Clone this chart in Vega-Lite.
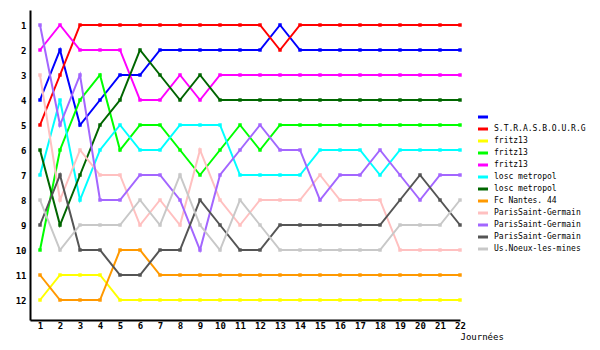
{
  "$schema": "https://vega.github.io/schema/vega-lite/v6.json",
  "autosize": "none",
  "width": 430,
  "height": 310,
  "padding": {"left": 30, "top": 10, "right": 140, "bottom": 30},
  "background": "white",
  "config": {
    "view": {"stroke": null},
    "font": "DejaVu Sans Mono",
    "axis": {"grid": false, "ticks": false, "domainColor": "black", "domainWidth": 2, "labelFont": "DejaVu Sans Mono", "labelFontSize": 9, "labelColor": "black", "labelFontWeight": "bold"}
  },
  "data": {"values": [
    {"s":"s01","d":1,"r":4},{"s":"s01","d":2,"r":2},{"s":"s01","d":3,"r":5},{"s":"s01","d":4,"r":4},{"s":"s01","d":5,"r":3},{"s":"s01","d":6,"r":3},{"s":"s01","d":7,"r":2},{"s":"s01","d":8,"r":2},{"s":"s01","d":9,"r":2},{"s":"s01","d":10,"r":2},{"s":"s01","d":11,"r":2},{"s":"s01","d":12,"r":2},{"s":"s01","d":13,"r":1},{"s":"s01","d":14,"r":2},{"s":"s01","d":15,"r":2},{"s":"s01","d":16,"r":2},{"s":"s01","d":17,"r":2},{"s":"s01","d":18,"r":2},{"s":"s01","d":19,"r":2},{"s":"s01","d":20,"r":2},{"s":"s01","d":21,"r":2},{"s":"s01","d":22,"r":2},
    {"s":"s02","d":1,"r":5},{"s":"s02","d":2,"r":3},{"s":"s02","d":3,"r":1},{"s":"s02","d":4,"r":1},{"s":"s02","d":5,"r":1},{"s":"s02","d":6,"r":1},{"s":"s02","d":7,"r":1},{"s":"s02","d":8,"r":1},{"s":"s02","d":9,"r":1},{"s":"s02","d":10,"r":1},{"s":"s02","d":11,"r":1},{"s":"s02","d":12,"r":1},{"s":"s02","d":13,"r":2},{"s":"s02","d":14,"r":1},{"s":"s02","d":15,"r":1},{"s":"s02","d":16,"r":1},{"s":"s02","d":17,"r":1},{"s":"s02","d":18,"r":1},{"s":"s02","d":19,"r":1},{"s":"s02","d":20,"r":1},{"s":"s02","d":21,"r":1},{"s":"s02","d":22,"r":1},
    {"s":"s03","d":1,"r":12},{"s":"s03","d":2,"r":11},{"s":"s03","d":3,"r":11},{"s":"s03","d":4,"r":11},{"s":"s03","d":5,"r":12},{"s":"s03","d":6,"r":12},{"s":"s03","d":7,"r":12},{"s":"s03","d":8,"r":12},{"s":"s03","d":9,"r":12},{"s":"s03","d":10,"r":12},{"s":"s03","d":11,"r":12},{"s":"s03","d":12,"r":12},{"s":"s03","d":13,"r":12},{"s":"s03","d":14,"r":12},{"s":"s03","d":15,"r":12},{"s":"s03","d":16,"r":12},{"s":"s03","d":17,"r":12},{"s":"s03","d":18,"r":12},{"s":"s03","d":19,"r":12},{"s":"s03","d":20,"r":12},{"s":"s03","d":21,"r":12},{"s":"s03","d":22,"r":12},
    {"s":"s04","d":1,"r":10},{"s":"s04","d":2,"r":6},{"s":"s04","d":3,"r":4},{"s":"s04","d":4,"r":3},{"s":"s04","d":5,"r":6},{"s":"s04","d":6,"r":5},{"s":"s04","d":7,"r":5},{"s":"s04","d":8,"r":6},{"s":"s04","d":9,"r":7},{"s":"s04","d":10,"r":6},{"s":"s04","d":11,"r":5},{"s":"s04","d":12,"r":6},{"s":"s04","d":13,"r":5},{"s":"s04","d":14,"r":5},{"s":"s04","d":15,"r":5},{"s":"s04","d":16,"r":5},{"s":"s04","d":17,"r":5},{"s":"s04","d":18,"r":5},{"s":"s04","d":19,"r":5},{"s":"s04","d":20,"r":5},{"s":"s04","d":21,"r":5},{"s":"s04","d":22,"r":5},
    {"s":"s05","d":1,"r":2},{"s":"s05","d":2,"r":1},{"s":"s05","d":3,"r":2},{"s":"s05","d":4,"r":2},{"s":"s05","d":5,"r":2},{"s":"s05","d":6,"r":4},{"s":"s05","d":7,"r":4},{"s":"s05","d":8,"r":3},{"s":"s05","d":9,"r":4},{"s":"s05","d":10,"r":3},{"s":"s05","d":11,"r":3},{"s":"s05","d":12,"r":3},{"s":"s05","d":13,"r":3},{"s":"s05","d":14,"r":3},{"s":"s05","d":15,"r":3},{"s":"s05","d":16,"r":3},{"s":"s05","d":17,"r":3},{"s":"s05","d":18,"r":3},{"s":"s05","d":19,"r":3},{"s":"s05","d":20,"r":3},{"s":"s05","d":21,"r":3},{"s":"s05","d":22,"r":3},
    {"s":"s06","d":1,"r":7},{"s":"s06","d":2,"r":4},{"s":"s06","d":3,"r":8},{"s":"s06","d":4,"r":6},{"s":"s06","d":5,"r":5},{"s":"s06","d":6,"r":6},{"s":"s06","d":7,"r":6},{"s":"s06","d":8,"r":5},{"s":"s06","d":9,"r":5},{"s":"s06","d":10,"r":5},{"s":"s06","d":11,"r":7},{"s":"s06","d":12,"r":7},{"s":"s06","d":13,"r":7},{"s":"s06","d":14,"r":7},{"s":"s06","d":15,"r":6},{"s":"s06","d":16,"r":6},{"s":"s06","d":17,"r":6},{"s":"s06","d":18,"r":7},{"s":"s06","d":19,"r":6},{"s":"s06","d":20,"r":6},{"s":"s06","d":21,"r":6},{"s":"s06","d":22,"r":6},
    {"s":"s07","d":1,"r":6},{"s":"s07","d":2,"r":9},{"s":"s07","d":3,"r":7},{"s":"s07","d":4,"r":5},{"s":"s07","d":5,"r":4},{"s":"s07","d":6,"r":2},{"s":"s07","d":7,"r":3},{"s":"s07","d":8,"r":4},{"s":"s07","d":9,"r":3},{"s":"s07","d":10,"r":4},{"s":"s07","d":11,"r":4},{"s":"s07","d":12,"r":4},{"s":"s07","d":13,"r":4},{"s":"s07","d":14,"r":4},{"s":"s07","d":15,"r":4},{"s":"s07","d":16,"r":4},{"s":"s07","d":17,"r":4},{"s":"s07","d":18,"r":4},{"s":"s07","d":19,"r":4},{"s":"s07","d":20,"r":4},{"s":"s07","d":21,"r":4},{"s":"s07","d":22,"r":4},
    {"s":"s08","d":1,"r":11},{"s":"s08","d":2,"r":12},{"s":"s08","d":3,"r":12},{"s":"s08","d":4,"r":12},{"s":"s08","d":5,"r":10},{"s":"s08","d":6,"r":10},{"s":"s08","d":7,"r":11},{"s":"s08","d":8,"r":11},{"s":"s08","d":9,"r":11},{"s":"s08","d":10,"r":11},{"s":"s08","d":11,"r":11},{"s":"s08","d":12,"r":11},{"s":"s08","d":13,"r":11},{"s":"s08","d":14,"r":11},{"s":"s08","d":15,"r":11},{"s":"s08","d":16,"r":11},{"s":"s08","d":17,"r":11},{"s":"s08","d":18,"r":11},{"s":"s08","d":19,"r":11},{"s":"s08","d":20,"r":11},{"s":"s08","d":21,"r":11},{"s":"s08","d":22,"r":11},
    {"s":"s09","d":1,"r":3},{"s":"s09","d":2,"r":8},{"s":"s09","d":3,"r":6},{"s":"s09","d":4,"r":7},{"s":"s09","d":5,"r":7},{"s":"s09","d":6,"r":9},{"s":"s09","d":7,"r":8},{"s":"s09","d":8,"r":9},{"s":"s09","d":9,"r":6},{"s":"s09","d":10,"r":8},{"s":"s09","d":11,"r":9},{"s":"s09","d":12,"r":8},{"s":"s09","d":13,"r":8},{"s":"s09","d":14,"r":8},{"s":"s09","d":15,"r":7},{"s":"s09","d":16,"r":8},{"s":"s09","d":17,"r":8},{"s":"s09","d":18,"r":8},{"s":"s09","d":19,"r":10},{"s":"s09","d":20,"r":10},{"s":"s09","d":21,"r":10},{"s":"s09","d":22,"r":10},
    {"s":"s10","d":1,"r":1},{"s":"s10","d":2,"r":5},{"s":"s10","d":3,"r":3},{"s":"s10","d":4,"r":8},{"s":"s10","d":5,"r":8},{"s":"s10","d":6,"r":7},{"s":"s10","d":7,"r":7},{"s":"s10","d":8,"r":8},{"s":"s10","d":9,"r":10},{"s":"s10","d":10,"r":7},{"s":"s10","d":11,"r":6},{"s":"s10","d":12,"r":5},{"s":"s10","d":13,"r":6},{"s":"s10","d":14,"r":6},{"s":"s10","d":15,"r":8},{"s":"s10","d":16,"r":7},{"s":"s10","d":17,"r":7},{"s":"s10","d":18,"r":6},{"s":"s10","d":19,"r":7},{"s":"s10","d":20,"r":8},{"s":"s10","d":21,"r":7},{"s":"s10","d":22,"r":7},
    {"s":"s11","d":1,"r":9},{"s":"s11","d":2,"r":7},{"s":"s11","d":3,"r":10},{"s":"s11","d":4,"r":10},{"s":"s11","d":5,"r":11},{"s":"s11","d":6,"r":11},{"s":"s11","d":7,"r":10},{"s":"s11","d":8,"r":10},{"s":"s11","d":9,"r":8},{"s":"s11","d":10,"r":9},{"s":"s11","d":11,"r":10},{"s":"s11","d":12,"r":10},{"s":"s11","d":13,"r":9},{"s":"s11","d":14,"r":9},{"s":"s11","d":15,"r":9},{"s":"s11","d":16,"r":9},{"s":"s11","d":17,"r":9},{"s":"s11","d":18,"r":9},{"s":"s11","d":19,"r":8},{"s":"s11","d":20,"r":7},{"s":"s11","d":21,"r":8},{"s":"s11","d":22,"r":9},
    {"s":"s12","d":1,"r":8},{"s":"s12","d":2,"r":10},{"s":"s12","d":3,"r":9},{"s":"s12","d":4,"r":9},{"s":"s12","d":5,"r":9},{"s":"s12","d":6,"r":8},{"s":"s12","d":7,"r":9},{"s":"s12","d":8,"r":7},{"s":"s12","d":9,"r":9},{"s":"s12","d":10,"r":10},{"s":"s12","d":11,"r":8},{"s":"s12","d":12,"r":9},{"s":"s12","d":13,"r":10},{"s":"s12","d":14,"r":10},{"s":"s12","d":15,"r":10},{"s":"s12","d":16,"r":10},{"s":"s12","d":17,"r":10},{"s":"s12","d":18,"r":10},{"s":"s12","d":19,"r":9},{"s":"s12","d":20,"r":9},{"s":"s12","d":21,"r":9},{"s":"s12","d":22,"r":8}
  ]},
  "encoding": {
    "x": {"field": "d", "type": "quantitative", "scale": {"domain": [0.5, 22], "nice": false, "zero": false},
      "axis": {"values": [1,2,3,4,5,6,7,8,9,10,11,12,13,14,15,16,17,18,19,20,21,22], "labelPadding": 1, "labelFlush": false,
        "title": "Journées", "titleFont": "DejaVu Sans Mono", "titleFontSize": 9, "titleFontWeight": "normal", "titleAlign": "left", "titleAnchor": null, "titleX": 430, "titleY": 19, "titleBaseline": "alphabetic"}},
    "y": {"field": "r", "type": "quantitative", "scale": {"domain": [0.4, 12.8], "reverse": true, "nice": false, "zero": false},
      "axis": {"values": [1,2,3,4,5,6,7,8,9,10,11,12], "labelPadding": 4, "title": null, "labelFlush": false}},
    "color": {"field": "s", "type": "nominal",
      "scale": {"domain": ["s01","s02","s03","s04","s05","s06","s07","s08","s09","s10","s11","s12"],
        "range": ["#0000FF","#FF0000","#FFFF00","#00FF00","#FF00FF","#00FFFF","#006600","#FF9900","#FFC0C0","#A366FF","#555555","#C8C8C8"]},
      "legend": {"orient": "none", "legendX": 448, "legendY": 102, "title": null, "symbolType": "M-1.43,0H1.43", "symbolSize": 49, "symbolStrokeWidth": 3,
        "labelFont": "DejaVu Sans Mono", "labelFontSize": 8, "labelColor": "black", "rowPadding": 0, "labelOffset": 6, "labelBaseline": "middle", "labelLimit": 200,
        "encode": {"symbols": {"update": {"stroke": {"scale": "color", "field": "value"}, "fill": {"value": "transparent"}}}},
        "labelExpr": "['','S.T.R.A.S.B.O.U.R.G','fritz13','fritz13','fritz13','losc metropol','losc metropol','Fc Nantes. 44','ParisSaint-Germain','ParisSaint-Germain','ParisSaint-Germain','Us.Noeux-les-mines'][toNumber(substring(datum.value,1,3))-1]"}}
  },
  "layer": [
    {"mark": {"type": "line", "strokeWidth": 2, "interpolate": "linear"}},
    {"mark": {"type": "point", "shape": "square", "filled": true, "size": 12, "opacity": 1}}
  ]
}
